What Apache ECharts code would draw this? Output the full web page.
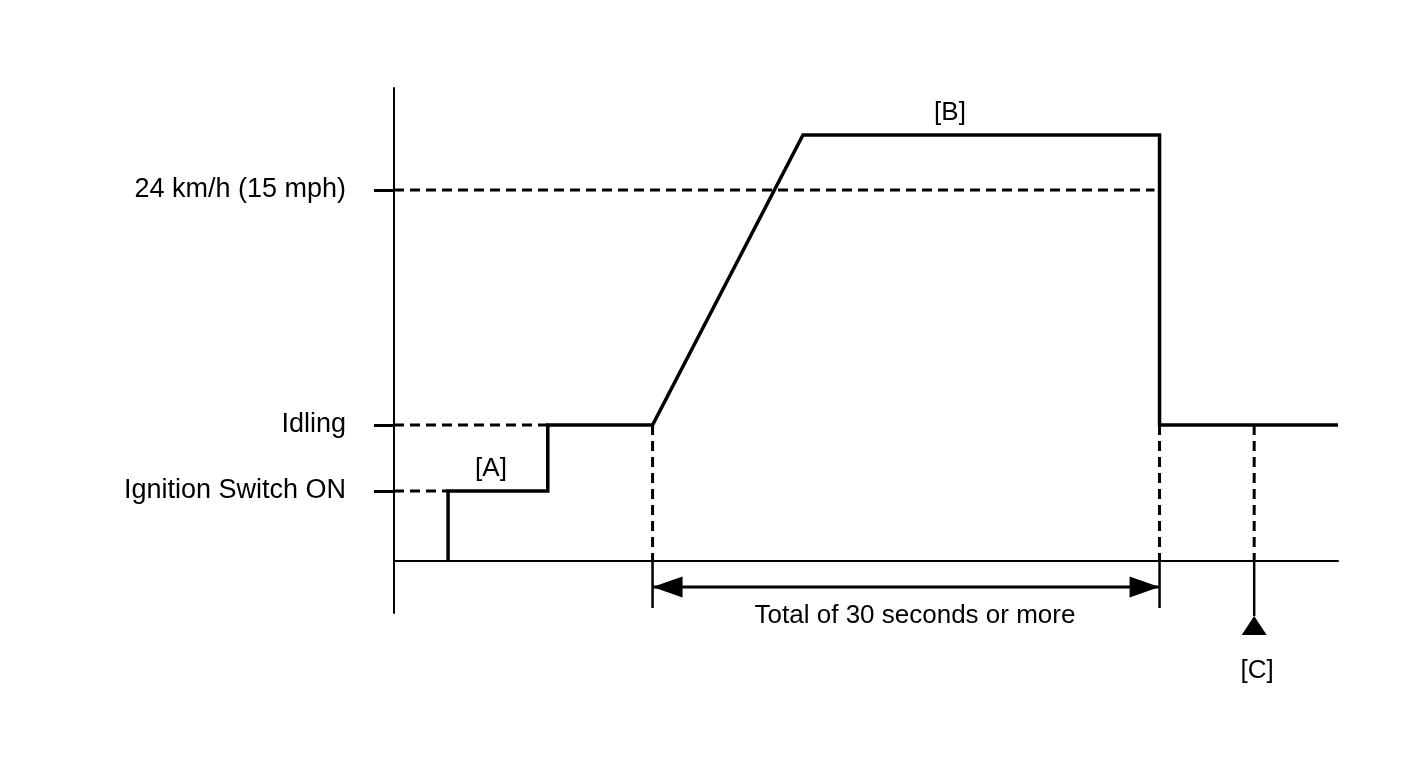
<!DOCTYPE html>
<html>
<head>
<meta charset="utf-8">
<script src="https://cdn.jsdelivr.net/npm/echarts@6/dist/echarts.min.js"></script>
<style>html,body{margin:0;padding:0;background:#fff;}#c{width:1424px;height:759px;}</style>
</head>
<body>
<div id="c"></div>
<script>
// ---- data (x: seconds, y: relative level) ----
const levelNames = ['Ignition Switch ON', 'Idling', '24 km/h (15 mph)'];
const levelValues = [7.0, 13.6, 37.1];
const guideEnds = [3.2, 9.1, 45.0];
const stepTimes = [3.2, 3.2, 9.1, 9.1, 15.3, 24.2, 45.3, 45.3, 55.86];
const stepValues = [0, 7.0, 7.0, 13.6, 13.6, 42.6, 42.6, 13.6, 13.6];
const spanTimes = [15.3, 45.3];
const spanArrowLevel = -2.6;
const spanTickBottom = -4.7;
const cTime = 50.9;
const cStemBottom = -5.5;
const cArrowLevel = -6.45;
const noteTexts = ['[A]', '[B]', '[C]', 'Total of 30 seconds or more'];
const noteX = [5.74, 32.9, 51.07, 30.83];
const noteY = [9.2, 44.8, -11.0, -5.5];
const xMax = 55.86, yMin = -5.2, yMax = 47.3;

const FONT = '"Liberation Sans", Arial, sans-serif';
const black = '#000';
const dash = [10, 6];

const series = [];
// dashed horizontal guides
levelValues.forEach((v, i) => {
  series.push({
    type: 'line', silent: true, clip: false, symbol: 'none',
    data: [[0, v], [guideEnds[i], v]],
    lineStyle: { color: black, width: 3, type: dash }
  });
});
// dashed verticals (span ends + C)
spanTimes.concat([cTime]).forEach(t => {
  series.push({
    type: 'line', silent: true, clip: false, symbol: 'none',
    data: [[t, levelValues[1]], [t, 0]],
    lineStyle: { color: black, width: 3, type: dash }
  });
});
// solid extensions below the axis
spanTimes.forEach(t => {
  series.push({
    type: 'line', silent: true, clip: false, symbol: 'none',
    data: [[t, 0], [t, spanTickBottom]],
    lineStyle: { color: black, width: 2.5 }
  });
});
series.push({
  type: 'line', silent: true, clip: false, symbol: 'none',
  data: [[cTime, 0], [cTime, cStemBottom]],
  lineStyle: { color: black, width: 2.5 }
});
// main signal
series.push({
  type: 'line', silent: true, clip: false, symbol: 'none',
  data: stepTimes.map((t, i) => [t, stepValues[i]]),
  lineStyle: { color: black, width: 3.5, join: 'miter', cap: 'butt' }
});
// double arrow
series.push({
  type: 'line', silent: true, clip: false,
  showSymbol: true, showAllSymbol: true,
  itemStyle: { color: black, opacity: 1 },
  lineStyle: { color: black, width: 3 },
  data: [
    { value: [spanTimes[0], spanArrowLevel], symbol: 'triangle', symbolSize: [21, 30], symbolRotate: 90, symbolOffset: [15, 0] },
    { value: [spanTimes[1], spanArrowLevel], symbol: 'triangle', symbolSize: [21, 30], symbolRotate: -90, symbolOffset: [-15, 0] }
  ]
});
// C arrow head
series.push({
  type: 'scatter', silent: true, clip: false,
  symbol: 'triangle', symbolSize: [25, 19],
  itemStyle: { color: black, opacity: 1 },
  data: [[cTime, cArrowLevel]]
});
// notes
series.push({
  type: 'scatter', silent: true, clip: false, symbolSize: 0,
  itemStyle: { color: black, opacity: 1 },
  data: noteTexts.map((n, i) => ({ name: n, value: [noteX[i], noteY[i]] })),
  label: {
    show: true, position: 'inside', formatter: p => p.name,
    color: black, opacity: 1, fontSize: 26, fontFamily: FONT
  }
});

const chart = echarts.init(document.getElementById('c'), null, { renderer: 'canvas' });
chart.setOption({
  animation: false,
  backgroundColor: '#fff',
  grid: { left: 394, right: 86, top: 88, bottom: 146, containLabel: false },
  xAxis: {
    type: 'value', min: 0, max: xMax,
    axisLine: { show: true, onZero: true, lineStyle: { color: black, width: 2 } },
    axisTick: { show: false }, axisLabel: { show: false }, splitLine: { show: false }
  },
  yAxis: {
    type: 'value', min: yMin, max: yMax,
    axisLine: { show: true, onZero: false, lineStyle: { color: black, width: 2 } },
    axisTick: { show: true, customValues: levelValues, length: 20, lineStyle: { color: black, width: 3 } },
    axisLabel: {
      show: true, customValues: levelValues, margin: 48,
      color: black, fontSize: 27, fontFamily: FONT,
      formatter: v => {
        const i = levelValues.findIndex(x => Math.abs(x - v) < 1e-6);
        return i >= 0 ? levelNames[i] : '';
      }
    },
    splitLine: { show: false }
  },
  series: series
});
</script>
</body>
</html>
